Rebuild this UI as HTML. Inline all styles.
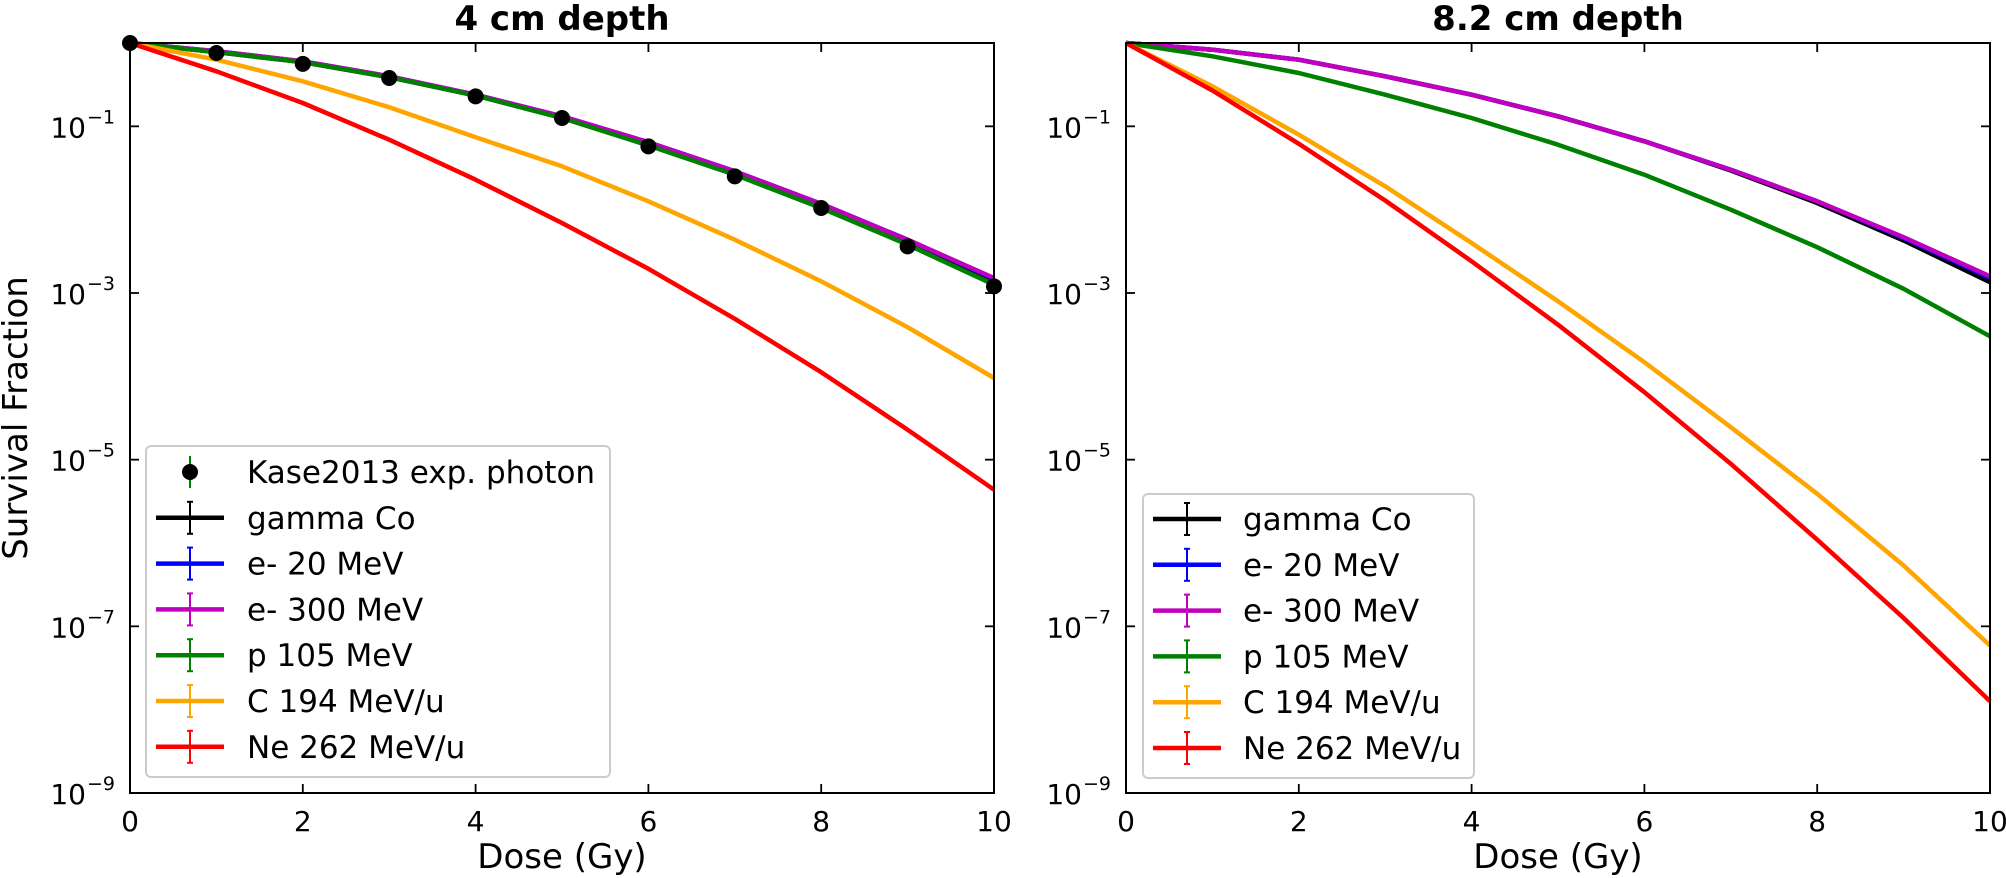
<!DOCTYPE html>
<html><head><meta charset="utf-8"><style>
html,body{margin:0;padding:0;background:#fff;}
svg{display:block;font-family:"DejaVu Sans","Liberation Sans",sans-serif;}
</style></head><body>
<svg id="s" width="2006" height="878" xmlns="http://www.w3.org/2000/svg">
<rect width="2006" height="878" fill="#fff"/>
<g id="g"></g>
</svg>
<script>
const NS="http://www.w3.org/2000/svg";
const g=document.getElementById('g');
function el(t,a,txt){const e=document.createElementNS(NS,t);for(const k in a)e.setAttribute(k,a[k]);if(txt!==undefined)e.textContent=txt;g.appendChild(e);return e;}
const T=43,B=793,DEC=(B-T)/9;
function axes(L,R,data){
  const X=d=>L+(R-L)*d/10, Y=v=>T-v*DEC;
  for(const s of data){
    const pts=s.v.map((v,i)=>X(i).toFixed(1)+','+Y(v).toFixed(1)).join(' ');
    el('polyline',{points:pts,fill:'none',stroke:s.c,'stroke-width':4.5,'stroke-linejoin':'round'});
  }
  return {X,Y};
}
function frame(L,R,title){
  el('rect',{x:L,y:T,width:R-L,height:B-T,fill:'none',stroke:'#000','stroke-width':2});
  for(let d=0;d<=10;d+=2){const x=L+(R-L)*d/10;
    el('line',{x1:x,y1:B,x2:x,y2:B-9,stroke:'#000','stroke-width':1.8});
    el('line',{x1:x,y1:T,x2:x,y2:T+9,stroke:'#000','stroke-width':1.8});
    el('text',{x:x,y:831,'font-size':28,'text-anchor':'middle'},String(d));}
  for(let k=1;k<=9;k+=2){const y=T+k*DEC;
    el('line',{x1:L,y1:y,x2:L+9,y2:y,stroke:'#000','stroke-width':1.8});
    el('line',{x1:R,y1:y,x2:R-9,y2:y,stroke:'#000','stroke-width':1.8});
    el('text',{x:L-44,y:y+11,'font-size':28,'text-anchor':'end'},'10');
    el('text',{x:L-43,y:y-3,'font-size':19,'text-anchor':'start'},'\u2212'+k);}
  el('text',{x:(L+R)/2,y:30,'font-size':34,'font-weight':'bold','text-anchor':'middle'},title);
  el('text',{x:(L+R)/2,y:868,'font-size':34,'text-anchor':'middle'},'Dose (Gy)');
}
const L1=130,R1=994,L2=1126,R2=1990;
const left=[
 {c:'#000',v:[0,-0.11,-0.23,-0.41,-0.63,-0.90,-1.22,-1.57,-1.97,-2.41,-2.89]},
 {c:'#0000ff',v:[0,-0.10,-0.22,-0.40,-0.62,-0.88,-1.19,-1.54,-1.93,-2.36,-2.83]},
 {c:'#bf00bf',v:[0,-0.10,-0.22,-0.40,-0.62,-0.88,-1.19,-1.54,-1.93,-2.36,-2.82]},
 {c:'#008000',v:[0,-0.11,-0.23,-0.41,-0.63,-0.90,-1.23,-1.58,-1.98,-2.42,-2.90]},
 {c:'#ffa500',v:[0,-0.20,-0.46,-0.77,-1.13,-1.48,-1.90,-2.36,-2.86,-3.41,-4.02]},
 {c:'#ff0000',v:[0,-0.34,-0.72,-1.16,-1.64,-2.16,-2.71,-3.31,-3.95,-4.64,-5.36]}];
const right=[
 {c:'#000',v:[0,-0.08,-0.20,-0.40,-0.62,-0.88,-1.18,-1.53,-1.92,-2.37,-2.87]},
 {c:'#0000ff',v:[0,-0.08,-0.20,-0.40,-0.62,-0.88,-1.18,-1.52,-1.90,-2.34,-2.82]},
 {c:'#bf00bf',v:[0,-0.08,-0.20,-0.40,-0.62,-0.88,-1.18,-1.52,-1.90,-2.33,-2.80]},
 {c:'#008000',v:[0,-0.16,-0.36,-0.62,-0.90,-1.22,-1.58,-2.00,-2.45,-2.95,-3.52]},
 {c:'#ffa500',v:[0,-0.52,-1.10,-1.72,-2.40,-3.10,-3.83,-4.61,-5.41,-6.27,-7.23]},
 {c:'#ff0000',v:[0,-0.57,-1.21,-1.89,-2.62,-3.38,-4.19,-5.05,-5.96,-6.90,-7.90]}];
const A=axes(L1,R1,left);
const dots=[0,-0.12,-0.25,-0.42,-0.64,-0.90,-1.24,-1.60,-1.98,-2.44,-2.92];
dots.forEach((v,i)=>{const x=A.X(i),y=A.Y(v);
  el('line',{x1:x,y1:y-6,x2:x,y2:y+6,stroke:'#008000','stroke-width':2});
  el('circle',{cx:x,cy:y,r:8,fill:'#000'});});
axes(L2,R2,right);
frame(L1,R1,'4 cm depth');
frame(L2,R2,'8.2 cm depth');
el('text',{x:0,y:0,'font-size':34,'text-anchor':'middle',transform:'translate(27,418) rotate(-90)'},'Survival Fraction');
function legend(x0,y0,w,h,rows,ry,hx,tx,sp){
  el('rect',{x:x0,y:y0,width:w,height:h,rx:5,fill:'#fff',stroke:'#cccccc','stroke-width':2,'fill-opacity':0.9});
  rows.forEach((r,i)=>{const y=ry+i*sp;
    if(r.dot){el('line',{x1:hx+34,y1:y-16,x2:hx+34,y2:y+16,stroke:'#008000','stroke-width':2});
      el('circle',{cx:hx+34,cy:y,r:8,fill:'#000'});}
    else{el('line',{x1:hx,y1:y,x2:hx+68,y2:y,stroke:r.c,'stroke-width':4.5});
      el('line',{x1:hx+34,y1:y-16,x2:hx+34,y2:y+16,stroke:r.c,'stroke-width':2});
      el('line',{x1:hx+31,y1:y-16,x2:hx+37,y2:y-16,stroke:r.c,'stroke-width':2});
      el('line',{x1:hx+31,y1:y+16,x2:hx+37,y2:y+16,stroke:r.c,'stroke-width':2});}
    el('text',{x:tx,y:y+11,'font-size':31},r.t);});
}
const base=[{c:'#000',t:'gamma Co'},{c:'#0000ff',t:'e- 20 MeV'},{c:'#bf00bf',t:'e- 300 MeV'},{c:'#008000',t:'p 105 MeV'},{c:'#ffa500',t:'C 194 MeV/u'},{c:'#ff0000',t:'Ne 262 MeV/u'}];
legend(146,446,464,331,[{dot:1,t:'Kase2013 exp. photon'}].concat(base),472,156,247,45.8);
legend(1143,494,331,284,base,519,1153,1243,45.8);
</script>
</body></html>
